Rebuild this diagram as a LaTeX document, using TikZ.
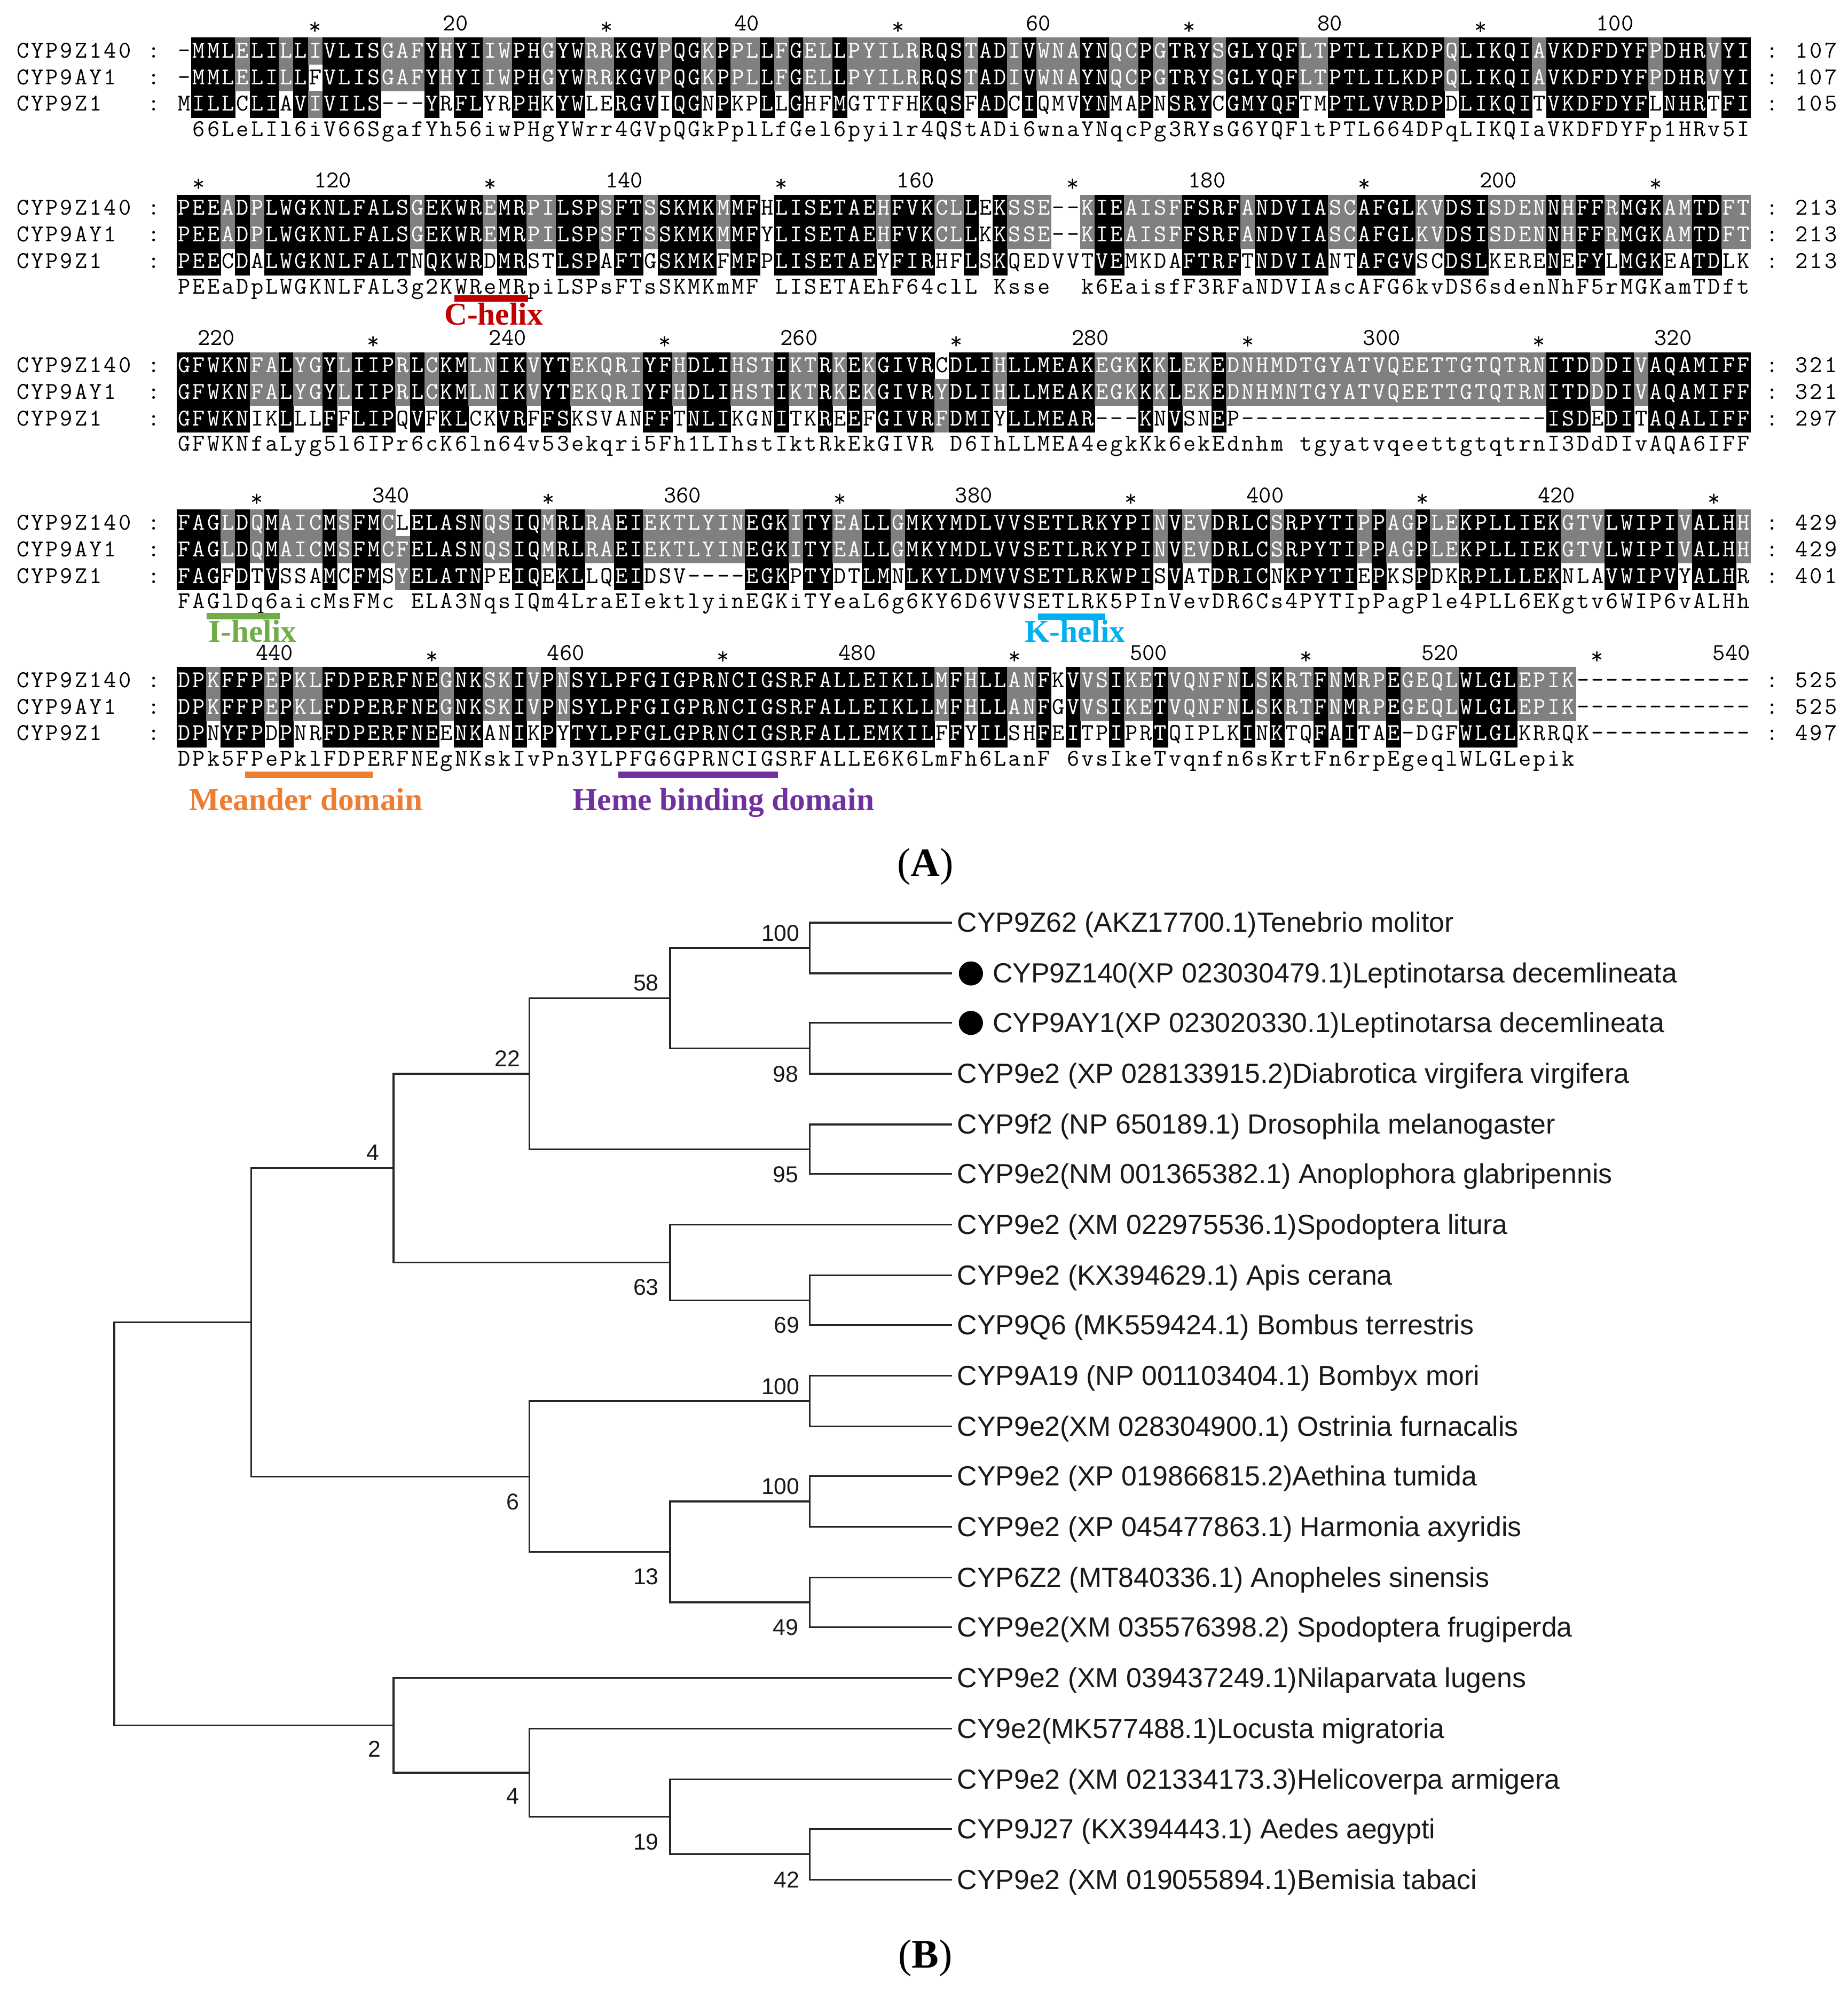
\documentclass[tikz,border=0pt]{standalone}
\usepackage{fontspec}
\usepackage{graphicx}
\setmainfont{Liberation Serif}
\newfontfamily\treefont{Liberation Sans}
\definecolor{alngrayc}{RGB}{128,128,128}
\definecolor{chelixc}{RGB}{192,0,0}
\definecolor{ihelixc}{RGB}{112,173,71}
\definecolor{khelixc}{RGB}{0,176,240}
\definecolor{meanderc}{RGB}{237,125,49}
\definecolor{hemec}{RGB}{112,48,160}
\def\alnx{139.3}
\def\cw{11.48}
\newdimen\cwd \cwd=11.48pt
\newcommand\alncell[2]{\makebox[\cwd][c]{\ifx b#1\color{white}\else\ifx g#1\color{white}\else\color{black}\fi\fi\ifx .#2\else #2\fi}}
\ExplSyntaxOn
\tl_new:N \l_aln_a_tl
\tl_new:N \l_aln_b_tl
\tl_new:N \l_aln_c_tl
\tl_new:N \l_aln_k_tl
\tl_new:N \l_aln_ga_tl
\tl_new:N \l_aln_gb_tl
\tl_new:N \l_aln_gc_tl
\tl_new:N \l_aln_kind_tl
\tl_new:N \l_aln_cls_tl
\tl_new:N \l_aln_ra_tl
\tl_new:N \l_aln_rb_tl
\tl_new:N \l_aln_rc_tl
\tl_new:N \l_aln_rk_tl
\tl_const:Nn \c_aln_dash_tl { - }
\tl_const:Nn \c_aln_zero_tl { 0 }
\tl_const:Nn \c_aln_U_tl { U }
\tl_const:Nn \c_aln_L_tl { L }
\tl_const:Nn \c_aln_b_tl { b }
\tl_const:Nn \c_aln_g_tl { g }
\cs_new_protected:Npn \aln_grp:NN #1#2
  {
    \tl_set:Nn #2 { 0 }
    \exp_args:NnV \tl_if_in:nnT { DN } #1 { \tl_set:Nn #2 { 1 } }
    \exp_args:NnV \tl_if_in:nnT { EQ } #1 { \tl_set:Nn #2 { 2 } }
    \exp_args:NnV \tl_if_in:nnT { ST } #1 { \tl_set:Nn #2 { 3 } }
    \exp_args:NnV \tl_if_in:nnT { KR } #1 { \tl_set:Nn #2 { 4 } }
    \exp_args:NnV \tl_if_in:nnT { FYW } #1 { \tl_set:Nn #2 { 5 } }
    \exp_args:NnV \tl_if_in:nnT { LIVM } #1 { \tl_set:Nn #2 { 6 } }
  }
\cs_new_protected:Npn \aln_class:NNNNNN #1#2#3#4#5#6
  {
    \tl_set:Nn \l_aln_cls_tl { w }
    \tl_if_eq:NNF #1 \c_aln_dash_tl
      {
        \tl_if_eq:NNTF \l_aln_kind_tl \c_aln_U_tl
          { \tl_set:Nn \l_aln_cls_tl { b } }
          {
            \tl_if_eq:NNTF \l_aln_kind_tl \c_aln_L_tl
              {
                \tl_if_eq:NNT #1 #2 { \tl_set:Nn \l_aln_cls_tl { g } }
                \tl_if_eq:NNT #1 #3 { \tl_set:Nn \l_aln_cls_tl { g } }
              }
              {
                \tl_if_eq:NNF #4 \c_aln_zero_tl
                  {
                    \tl_if_eq:NNT #4 #5 { \tl_set:Nn \l_aln_cls_tl { g } }
                    \tl_if_eq:NNT #4 #6 { \tl_set:Nn \l_aln_cls_tl { g } }
                  }
              }
          }
      }
  }
\cs_new_protected:Npn \aln_fill:nn #1#2
  {
    \tl_if_eq:NNT \l_aln_cls_tl \c_aln_g_tl
      { \fill [alngry] ({\alnx+(#1-1)*\cw},{#2-10.5}) rectangle ~ ++(\cw+0.4,21.4); }
    \tl_if_eq:NNT \l_aln_cls_tl \c_aln_b_tl
      { \fill [alnblk] ({\alnx+(#1-1)*\cw},{#2-10.5}) rectangle ~ ++(\cw+0.4,21.4); }
  }
\cs_new_protected:Npn \alnblock #1#2#3#4#5#6
  {
    \tl_clear:N \l_aln_ra_tl
    \tl_clear:N \l_aln_rb_tl
    \tl_clear:N \l_aln_rc_tl
    \tl_clear:N \l_aln_rk_tl
    \int_step_inline:nn { \tl_count:n {#2} }
      {
        \tl_set:Nx \l_aln_a_tl { \tl_item:nn {#2} {##1} }
        \tl_set:Nx \l_aln_b_tl { \tl_item:nn {#3} {##1} }
        \tl_set:Nx \l_aln_c_tl { \tl_item:nn {#4} {##1} }
        \tl_set:Nx \l_aln_k_tl { \tl_item:nn {#5} {##1} }
        \aln_grp:NN \l_aln_a_tl \l_aln_ga_tl
        \aln_grp:NN \l_aln_b_tl \l_aln_gb_tl
        \aln_grp:NN \l_aln_c_tl \l_aln_gc_tl
        \tl_set:Nn \l_aln_kind_tl { B }
        \exp_args:NnV \tl_if_in:nnT { ABCDEFGHIJKLMNOPQRSTUVWXYZ0123456789 } \l_aln_k_tl
          { \tl_set:Nn \l_aln_kind_tl { U } }
        \exp_args:NnV \tl_if_in:nnT { abcdefghijklmnopqrstuvwxyz } \l_aln_k_tl
          { \tl_set:Nn \l_aln_kind_tl { L } }
        \aln_class:NNNNNN \l_aln_a_tl \l_aln_b_tl \l_aln_c_tl \l_aln_ga_tl \l_aln_gb_tl \l_aln_gc_tl
        \aln_fill:nn {##1} {#1}
        \tl_put_right:Nx \l_aln_ra_tl { \exp_not:N \alncell \l_aln_cls_tl \l_aln_a_tl }
        \aln_class:NNNNNN \l_aln_b_tl \l_aln_a_tl \l_aln_c_tl \l_aln_gb_tl \l_aln_ga_tl \l_aln_gc_tl
        \aln_fill:nn {##1} {#1+21}
        \tl_put_right:Nx \l_aln_rb_tl { \exp_not:N \alncell \l_aln_cls_tl \l_aln_b_tl }
        \aln_class:NNNNNN \l_aln_c_tl \l_aln_a_tl \l_aln_b_tl \l_aln_gc_tl \l_aln_ga_tl \l_aln_gb_tl
        \aln_fill:nn {##1} {#1+42}
        \tl_put_right:Nx \l_aln_rc_tl { \exp_not:N \alncell \l_aln_cls_tl \l_aln_c_tl }
        \tl_put_right:Nx \l_aln_rk_tl { \exp_not:N \alncell w \l_aln_k_tl }
      }
    \node [alnrow] (s#6a) at ~ (\alnx,#1+5.5) { \l_aln_ra_tl };
    \node [alnrow] (s#6b) at ~ (\alnx,#1+26.5) { \l_aln_rb_tl };
    \node [alnrow] (s#6c) at ~ (\alnx,#1+47.5) { \l_aln_rc_tl };
    \node [alnrow] (s#6k) at ~ (\alnx,#1+67.5) { \l_aln_rk_tl };
  }
\cs_new_protected:Npn \alnruler #1#2
  {
    \int_step_inline:nnnn {10} {10} {540}
      {
        \int_compare:nNnT { ##1 - 108 * #2 } > { 0 }
          {
            \int_compare:nNnT { ##1 - 108 * #2 } < { 109 }
              {
                \int_compare:nNnTF { \int_mod:nn {##1} {20} } = { 0 }
                  { \node [alnnum] (r##1) at ~ ({\alnx+(##1-108*#2)*\cw},{#1-16}) {##1}; }
                  { \node [alnstar] (r##1) at ~ ({\alnx+(##1-108*#2-0.5)*\cw},{#1-13}) {*}; }
              }
          }
      }
  }
\cs_new_protected:Npn \alnname #1
  { \tl_map_inline:nn {#1} { \alncell w ##1 } }
\ExplSyntaxOff
\begin{document}
\begin{tikzpicture}[x=1pt,y=-1pt,
  alnblk/.style={fill=black},
  alngry/.style={fill=alngrayc},
  alnrow/.style={anchor=base west,inner sep=0pt,font=\ttfamily\fontsize{19}{19}\selectfont},
  alnnum/.style={anchor=base east,inner sep=0pt,font=\ttfamily\fontsize{19}{19}\selectfont},
  alnstar/.style={anchor=base,inner sep=0pt,font=\ttfamily\fontsize{19}{19}\selectfont},
  featlab/.style={anchor=base,inner sep=0pt,font=\fontsize{25}{25}\selectfont\bfseries},
  tree/.style={line width=1.4pt,draw=black!85},
  leaf/.style={anchor=base west,inner sep=0pt,font=\treefont\fontsize{21.8}{22}\selectfont,text=black!90},
  boot/.style={anchor=base,inner sep=0pt,font=\treefont\fontsize{18}{18}\selectfont,text=black!90},
  dotn/.style={circle,fill=black,inner sep=0pt,minimum size=19pt},
  tag/.style={inner sep=0pt,font=\fontsize{32}{32}\selectfont}]
\useasboundingbox (0,0) rectangle (1456,1568);
\fill[white] (0,0) rectangle (1456,1568);

% ---------------- Panel A: alignment ----------------
\alnruler{40}{0}
\alnblock{40}
{-MMLELILLIVLISGAFYHYIIWPHGYWRRKGVPQGKPPLLFGELLPYILRRQSTADIVWNAYNQCPGTRYSGLYQFLTPTLILKDPQLIKQIAVKDFDYFPDHRVYI}
{-MMLELILLFVLISGAFYHYIIWPHGYWRRKGVPQGKPPLLFGELLPYILRRQSTADIVWNAYNQCPGTRYSGLYQFLTPTLILKDPQLIKQIAVKDFDYFPDHRVYI}
{MILLCLIAVIVILS---YRFLYRPHKYWLERGVIQGNPKPLLGHFMGTTFHKQSFADCIQMVYNMAPNSRYCGMYQFTMPTLVVRDPDLIKQITVKDFDYFLNHRTFI}
{.66LeLIl6iV66SgafYh56iwPHgYWrr4GVpQGkPplLfGel6pyilr4QStADi6wnaYNqcPg3RYsG6YQFltPTL664DPqLIKQIaVKDFDYFp1HRv5I}
{1}
\alnruler{164}{1}
\alnblock{164}
{PEEADPLWGKNLFALSGEKWREMRPILSPSFTSSKMKMMFHLISETAEHFVKCLLEKSSE--KIEAISFFSRFANDVIASCAFGLKVDSISDENNHFFRMGKAMTDFT}
{PEEADPLWGKNLFALSGEKWREMRPILSPSFTSSKMKMMFYLISETAEHFVKCLLKKSSE--KIEAISFFSRFANDVIASCAFGLKVDSISDENNHFFRMGKAMTDFT}
{PEECDALWGKNLFALTNQKWRDMRSTLSPAFTGSKMKFMFPLISETAEYFIRHFLSKQEDVVTVEMKDAFTRFTNDVIANTAFGVSCDSLKERENEFYLMGKEATDLK}
{PEEaDpLWGKNLFAL3g2KWReMRpiLSPsFTsSKMKmMF.LISETAEhF64clL.Ksse..k6EaisfF3RFaNDVIAscAFG6kvDS6sdenNhF5rMGKamTDft}
{2}
\alnruler{288}{2}
\alnblock{288}
{GFWKNFALYGYLIIPRLCKMLNIKVYTEKQRIYFHDLIHSTIKTRKEKGIVRCDLIHLLMEAKEGKKKLEKEDNHMDTGYATVQEETTGTQTRNITDDDIVAQAMIFF}
{GFWKNFALYGYLIIPRLCKMLNIKVYTEKQRIYFHDLIHSTIKTRKEKGIVRYDLIHLLMEAKEGKKKLEKEDNHMNTGYATVQEETTGTQTRNITDDDIVAQAMIFF}
{GFWKNIKLLLFFLIPQVFKLCKVRFFSKSVANFFTNLIKGNITKREEFGIVRFDMIYLLMEAR---KNVSNEP---------------------ISDEDITAQALIFF}
{GFWKNfaLyg5l6IPr6cK6ln64v53ekqri5Fh1LIhstIktRkEkGIVR.D6IhLLMEA4egkKk6ekEdnhm.tgyatvqeettgtqtrnI3DdDIvAQA6IFF}
{3}
\alnruler{412}{3}
\alnblock{412}
{FAGLDQMAICMSFMCLELASNQSIQMRLRAEIEKTLYINEGKITYEALLGMKYMDLVVSETLRKYPINVEVDRLCSRPYTIPPAGPLEKPLLIEKGTVLWIPIVALHH}
{FAGLDQMAICMSFMCFELASNQSIQMRLRAEIEKTLYINEGKITYEALLGMKYMDLVVSETLRKYPINVEVDRLCSRPYTIPPAGPLEKPLLIEKGTVLWIPIVALHH}
{FAGFDTVSSAMCFMSYELATNPEIQEKLLQEIDSV----EGKPTYDTLMNLKYLDMVVSETLRKWPISVATDRICNKPYTIEPKSPDKRPLLLEKNLAVWIPVYALHR}
{FAGlDq6aicMsFMc.ELA3NqsIQm4LraEIektlyinEGKiTYeaL6g6KY6D6VVSETLRK5PInVevDR6Cs4PYTIpPagPle4PLL6EKgtv6WIP6vALHh}
{4}
\alnruler{536}{4}
\alnblock{536}
{DPKFFPEPKLFDPERFNEGNKSKIVPNSYLPFGIGPRNCIGSRFALLEIKLLMFHLLANFKVVSIKETVQNFNLSKRTFNMRPEGEQLWLGLEPIK------------}
{DPKFFPEPKLFDPERFNEGNKSKIVPNSYLPFGIGPRNCIGSRFALLEIKLLMFHLLANFGVVSIKETVQNFNLSKRTFNMRPEGEQLWLGLEPIK------------}
{DPNYFPDPNRFDPERFNEENKANIKPYTYLPFGLGPRNCIGSRFALLEMKILFFYILSHFEITPIPRTQIPLKINKTQFAITAE-DGFWLGLKRRQK-----------}
{DPk5FPePklFDPERFNEgNKskIvPn3YLPFG6GPRNCIGSRFALLE6K6LmFh6LanF.6vsIkeTvqnfn6sKrtFn6rpEgeqlWLGLepik............}
{5}

\foreach \b/\y/\na/\nb/\nc in {1/40/107/107/105,2/164/213/213/213,3/288/321/321/297,4/412/429/429/401,5/536/525/525/497}{
  \node[alnrow] (na\b) at (12,\y+5.5) {\alnname{CYP9Z140.:}};
  \node[alnrow] (nb\b) at (12,\y+26.5) {\alnname{CYP9AY1..:}};
  \node[alnrow] (nc\b) at (12,\y+47.5) {\alnname{CYP9Z1...:}};
  \node[alnrow] (ea\b) at (\alnx+108*\cw,\y+5.5) {\alnname{.:.}\expandafter\alnname\expandafter{\na}};
  \node[alnrow] (eb\b) at (\alnx+108*\cw,\y+26.5) {\alnname{.:.}\expandafter\alnname\expandafter{\nb}};
  \node[alnrow] (ec\b) at (\alnx+108*\cw,\y+47.5) {\alnname{.:.}\expandafter\alnname\expandafter{\nc}};
}

\fill[chelixc] (358,232.5) rectangle (416,237.5);
\node[featlab,text=chelixc] (chel) at (389,256) {C-helix};
\fill[ihelixc] (163,483) rectangle (220.5,488);
\node[featlab,text=ihelixc] (ihel) at (199,506) {I-helix};
\fill[khelixc] (818,483.5) rectangle (871,488.5);
\node[featlab,text=khelixc] (khel) at (847,506) {K-helix};
\fill[meanderc] (193,608) rectangle (293.5,613);
\node[featlab,text=meanderc] (mean) at (241,638.5) {Meander domain};
\fill[hemec] (487,608) rectangle (613,613);
\node[featlab,text=hemec] (heme) at (570,638.5) {Heme binding domain};

\node[tag] (tagA) at (729,683) {(\textbf{A})};

% ---------------- Panel B: tree ----------------
\foreach \i/\yy in {1/727,2/767,3/806,4/846,5/886,6/925,7/965,8/1005,9/1044,10/1084,
  11/1124,12/1163,13/1203,14/1243,15/1282,16/1322,17/1362,18/1402,19/1441,20/1481}{
  \coordinate (t\i) at (750,\yy);
}
\coordinate (A100a) at (638,747);
\coordinate (A98) at (638,826);
\coordinate (A58) at (528,786.5);
\coordinate (A95) at (638,905.5);
\coordinate (A22) at (417,846);
\coordinate (A69) at (638,1024.5);
\coordinate (A63) at (528,994.75);
\coordinate (A4) at (310,920.4);
\coordinate (B100a) at (638,1104);
\coordinate (B100b) at (638,1183);
\coordinate (B49) at (638,1262.5);
\coordinate (B13) at (528,1222.75);
\coordinate (B6) at (417,1163.4);
\coordinate (N198) at (198,1041.9);
\coordinate (C42) at (638,1461);
\coordinate (C19) at (528,1431.5);
\coordinate (C4) at (417,1396.75);
\coordinate (C2) at (310,1359.4);
\coordinate (R) at (90,1200.6);

\draw[tree] (A100a) |- (t1);
\draw[tree] (A100a) |- (t2);
\draw[tree] (A98) |- (t3);
\draw[tree] (A98) |- (t4);
\draw[tree] (A58) |- (A100a);
\draw[tree] (A58) |- (A98);
\draw[tree] (A95) |- (t5);
\draw[tree] (A95) |- (t6);
\draw[tree] (A22) |- (A58);
\draw[tree] (A22) |- (A95);
\draw[tree] (A69) |- (t8);
\draw[tree] (A69) |- (t9);
\draw[tree] (A63) |- (t7);
\draw[tree] (A63) |- (A69);
\draw[tree] (A4) |- (A22);
\draw[tree] (A4) |- (A63);
\draw[tree] (B100a) |- (t10);
\draw[tree] (B100a) |- (t11);
\draw[tree] (B100b) |- (t12);
\draw[tree] (B100b) |- (t13);
\draw[tree] (B49) |- (t14);
\draw[tree] (B49) |- (t15);
\draw[tree] (B13) |- (B100b);
\draw[tree] (B13) |- (B49);
\draw[tree] (B6) |- (B100a);
\draw[tree] (B6) |- (B13);
\draw[tree] (N198) |- (A4);
\draw[tree] (N198) |- (B6);
\draw[tree] (C42) |- (t19);
\draw[tree] (C42) |- (t20);
\draw[tree] (C19) |- (t18);
\draw[tree] (C19) |- (C42);
\draw[tree] (C4) |- (t17);
\draw[tree] (C4) |- (C19);
\draw[tree] (C2) |- (t16);
\draw[tree] (C2) |- (C4);
\draw[tree] (R) |- (N198);
\draw[tree] (R) |- (C2);

\node[leaf] (l1) at (754,734.5) {CYP9Z62 (AKZ17700.1)Tenebrio molitor};
\node[dotn] (d2) at (765,767) {};
\node[leaf] (l2) at (782,774.5) {CYP9Z140(XP 023030479.1)Leptinotarsa decemlineata};
\node[dotn] (d3) at (765,806) {};
\node[leaf] (l3) at (782,813.5) {CYP9AY1(XP 023020330.1)Leptinotarsa decemlineata};
\node[leaf] (l4) at (754,853.5) {CYP9e2 (XP 028133915.2)Diabrotica virgifera virgifera};
\node[leaf] (l5) at (754,893.5) {CYP9f2 (NP 650189.1) Drosophila melanogaster};
\node[leaf] (l6) at (754,932.5) {CYP9e2(NM 001365382.1) Anoplophora glabripennis};
\node[leaf] (l7) at (754,972.5) {CYP9e2 (XM 022975536.1)Spodoptera litura};
\node[leaf] (l8) at (754,1012.5) {CYP9e2 (KX394629.1) Apis cerana};
\node[leaf] (l9) at (754,1051.5) {CYP9Q6 (MK559424.1) Bombus terrestris};
\node[leaf] (l10) at (754,1091.5) {CYP9A19 (NP 001103404.1) Bombyx mori};
\node[leaf] (l11) at (754,1131.5) {CYP9e2(XM 028304900.1) Ostrinia furnacalis};
\node[leaf] (l12) at (754,1170.5) {CYP9e2 (XP 019866815.2)Aethina tumida};
\node[leaf] (l13) at (754,1210.5) {CYP9e2 (XP 045477863.1) Harmonia axyridis};
\node[leaf] (l14) at (754,1250.5) {CYP6Z2 (MT840336.1) Anopheles sinensis};
\node[leaf] (l15) at (754,1289.5) {CYP9e2(XM 035576398.2) Spodoptera frugiperda};
\node[leaf] (l16) at (754,1329.5) {CYP9e2 (XM 039437249.1)Nilaparvata lugens};
\node[leaf] (l17) at (754,1369.5) {CY9e2(MK577488.1)Locusta migratoria};
\node[leaf] (l18) at (754,1409.5) {CYP9e2 (XM 021334173.3)Helicoverpa armigera};
\node[leaf] (l19) at (754,1448.5) {CYP9J27 (KX394443.1) Aedes aegypti};
\node[leaf] (l20) at (754,1488.5) {CYP9e2 (XM 019055894.1)Bemisia tabaci};

\node[boot] (b1) at (615,741.5) {100};
\node[boot] (b2) at (509,780.5) {58};
\node[boot] (b3) at (400,840.5) {22};
\node[boot] (b4) at (619,852.5) {98};
\node[boot] (b5) at (294,914.5) {4};
\node[boot] (b6) at (619,931.5) {95};
\node[boot] (b7) at (509,1020.5) {63};
\node[boot] (b8) at (620,1050.5) {69};
\node[boot] (b9) at (615,1098.5) {100};
\node[boot] (b10) at (615,1177.5) {100};
\node[boot] (b11) at (404,1189.5) {6};
\node[boot] (b12) at (509,1248.5) {13};
\node[boot] (b13) at (619,1288.5) {49};
\node[boot] (b14) at (295,1384.5) {2};
\node[boot] (b15) at (404,1421.5) {4};
\node[boot] (b16) at (509,1457.5) {19};
\node[boot] (b17) at (620,1487.5) {42};

\node[tag] (tagB) at (729,1543) {(\textbf{B})};
\end{tikzpicture}
\end{document}
